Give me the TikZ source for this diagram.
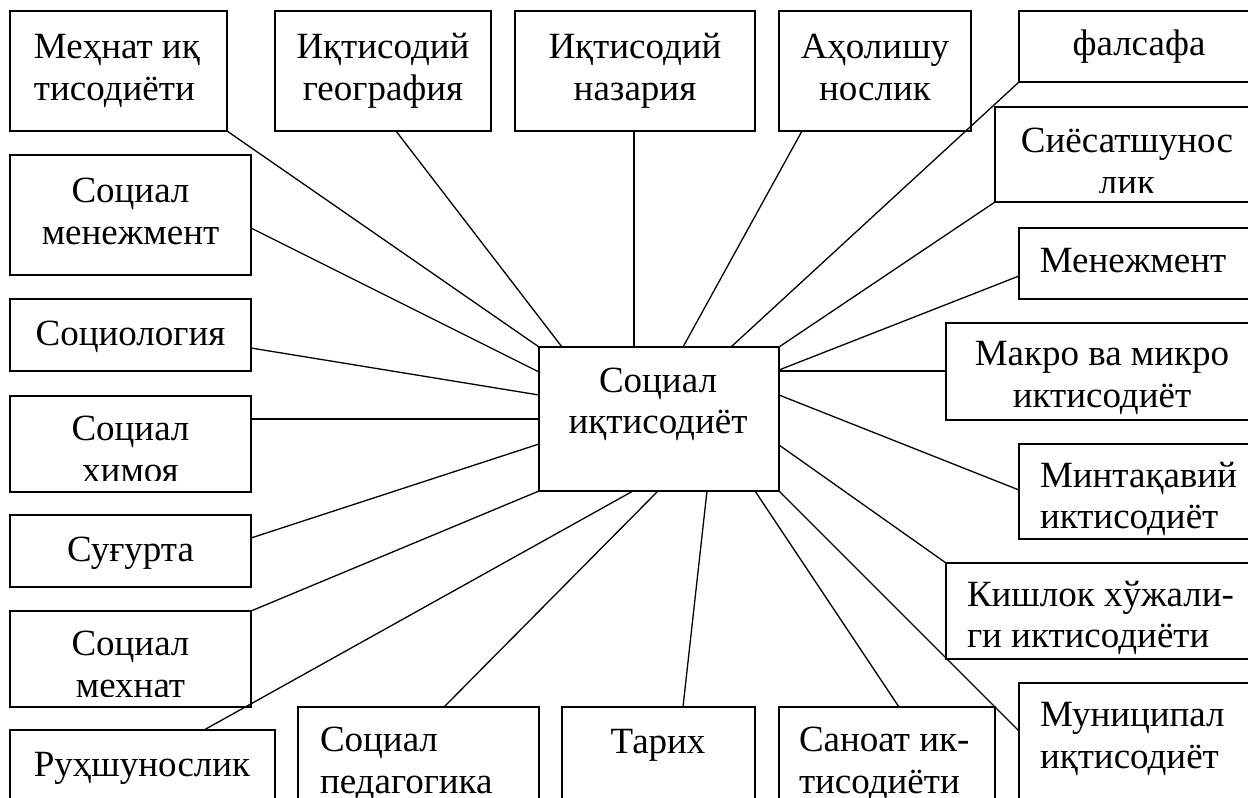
\documentclass[tikz,border=0pt]{standalone}
\usepackage{fontspec}
\setmainfont{Liberation Serif}
\begin{document}
\begin{tikzpicture}[x=1pt,y=-1pt,
  bx/.style={draw, line width=1.6pt, rectangle, inner sep=0pt, outer sep=0pt, anchor=north west},
  tx/.style={inner sep=0pt, outer sep=0pt, font=\fontsize{37}{42}\selectfont},
  ln/.style={line width=1.3pt}]
\useasboundingbox (0,0) rectangle (1248,798);
\clip (0,0) rectangle (1248,798);
\fill[white] (0,0) rectangle (1248,798);
% boxes
\node[bx, minimum width=240pt, minimum height=144pt] (c) at (539,347) {};
\node[bx, minimum width=217pt, minimum height=120pt] (b1) at (10,11) {};
\node[bx, minimum width=216pt, minimum height=120pt] (b2) at (275,11) {};
\node[bx, minimum width=240pt, minimum height=120pt] (b3) at (515,11) {};
\node[bx, minimum width=192pt, minimum height=120pt] (b4) at (779,11) {};
\node[bx, minimum width=260pt, minimum height=71pt] (b5) at (1019,11) {};
\node[bx, minimum width=280pt, minimum height=95pt] (b6) at (995,107) {};
\node[bx, minimum width=260pt, minimum height=71pt] (b7) at (1019,228) {};
\node[bx, minimum width=330pt, minimum height=97pt] (b8) at (946,323) {};
\node[bx, minimum width=260pt, minimum height=95pt] (b9) at (1019,444) {};
\node[bx, minimum width=330pt, minimum height=96pt] (b10) at (946,563) {};
\node[bx, minimum width=260pt, minimum height=140pt] (b11) at (1019,683) {};
\node[bx, minimum width=216pt, minimum height=120pt] (b12) at (779,707) {};
\node[bx, minimum width=193pt, minimum height=120pt] (b13) at (562,707) {};
\node[bx, minimum width=241pt, minimum height=120pt] (b14) at (298,707) {};
\node[bx, minimum width=265pt, minimum height=100pt] (b15) at (10,730) {};
\node[bx, minimum width=241pt, minimum height=96pt] (b16) at (10,611) {};
\node[bx, minimum width=241pt, minimum height=72pt] (b17) at (10,515) {};
\node[bx, minimum width=241pt, minimum height=96pt] (b18) at (10,396) {};
\node[bx, minimum width=241pt, minimum height=72pt] (b19) at (10,299) {};
\node[bx, minimum width=241pt, minimum height=120pt] (b20) at (10,155) {};
% texts
\node[tx, anchor=base] (ct1) at (658,392) {Социал};
\node[tx, anchor=base] (ct2) at (658,433) {иқтисодиёт};
\node[tx, anchor=base west] (t1a) at (34,58) {Меҳнат иқ};
\node[tx, anchor=base west] (t1b) at (34,100) {тисодиёти};
\node[tx, anchor=base] (t2a) at (383,58) {Иқтисодий};
\node[tx, anchor=base] (t2b) at (383,100) {география};
\node[tx, anchor=base] (t3a) at (635,58) {Иқтисодий};
\node[tx, anchor=base] (t3b) at (635,100) {назария};
\node[tx, anchor=base] (t4a) at (875,58) {Аҳолишу};
\node[tx, anchor=base] (t4b) at (875,100) {нослик};
\node[tx, anchor=base] (t5) at (1139,55) {фалсафа};
\node[tx, anchor=base] (t6a) at (1127,152) {Сиёсатшунос};
\begin{scope}
\clip (995,107) rectangle (1248,192);
\node[tx, anchor=base] (t6b) at (1127,194) {лик};
\end{scope}
\node[tx, anchor=base] (t7) at (1133,272) {Менежмент};
\node[tx, anchor=base] (t8a) at (1102,365) {Макро ва микро};
\node[tx, anchor=base] (t8b) at (1102,407) {иктисодиёт};
\node[tx, anchor=base west] (t9a) at (1040,487) {Минтақавий};
\node[tx, anchor=base west] (t9b) at (1040,528) {иктисодиёт};
\node[tx, anchor=base west] (t10a) at (967,606) {Кишлок хўжали-};
\node[tx, anchor=base west] (t10b) at (967,647) {ги иктисодиёти};
\node[tx, anchor=base west] (t11a) at (1040,726) {Муниципал};
\node[tx, anchor=base west] (t11b) at (1040,768) {иқтисодиёт};
\node[tx, anchor=base west] (t12a) at (799,751) {Саноат ик-};
\node[tx, anchor=base west] (t12b) at (799,793) {тисодиёти};
\node[tx, anchor=base] (t13) at (658,753) {Тарих};
\node[tx, anchor=base west] (t14a) at (320,751) {Социал};
\node[tx, anchor=base west] (t14b) at (320,793) {педагогика};
\node[tx, anchor=base] (t15) at (142,776) {Руҳшунослик};
\node[tx, anchor=base] (t16a) at (130.5,655) {Социал};
\begin{scope}
\clip (10,611) rectangle (251,696);
\node[tx, anchor=base] (t16b) at (130.5,697) {мехнат};
\end{scope}
\node[tx, anchor=base] (t17) at (130.5,561) {Суғурта};
\node[tx, anchor=base] (t18a) at (130.5,440) {Социал};
\begin{scope}
\clip (10,396) rectangle (251,480);
\node[tx, anchor=base] (t18b) at (130.5,482) {химоя};
\end{scope}
\node[tx, anchor=base] (t19) at (130.5,345) {Социология};
\node[tx, anchor=base] (t20a) at (130.5,202) {Социал};
\node[tx, anchor=base] (t20b) at (130.5,244) {менежмент};
% connectors
\draw[ln] (b1.south east) -- (c.north west);
\draw[ln] ([xshift=121pt]b2.south west) -- ([xshift=23pt]c.north west);
\draw[ln] ([xshift=119pt]b3.south west) -- ([xshift=95pt]c.north west);
\draw[ln] ([xshift=23pt]b4.south west) -- ([xshift=144pt]c.north west);
\draw[ln] (b5.south west) -- ([xshift=192pt]c.north west);
\draw[ln] (b6.south west) -- (c.north east);
\draw[ln] ([yshift=-48pt]b7.north west) -- ([yshift=-23pt]c.north east);
\draw[ln] ([yshift=-48pt]b8.north west) -- ([yshift=-24pt]c.north east);
\draw[ln] ([yshift=-46pt]b9.north west) -- ([yshift=-48pt]c.north east);
\draw[ln] (b10.north west) -- ([yshift=-98pt]c.north east);
\draw[ln] ([yshift=-48pt]b11.north west) -- (c.south east);
\draw[ln] ([xshift=120pt]b12.north west) -- ([xshift=-24pt]c.south east);
\draw[ln] ([xshift=121pt]b13.north west) -- ([xshift=-72pt]c.south east);
\draw[ln] ([xshift=146pt]b14.north west) -- ([xshift=119pt]c.south west);
\draw[ln] ([xshift=194pt]b15.north west) -- ([xshift=94pt]c.south west);
\draw[ln] (b16.north east) -- (c.south west);
\draw[ln] ([yshift=-23pt]b17.north east) -- ([yshift=47pt]c.south west);
\draw[ln] ([yshift=-23pt]b18.north east) -- ([yshift=-72pt]c.north west);
\draw[ln] ([yshift=-49pt]b19.north east) -- ([yshift=-48pt]c.north west);
\draw[ln] ([yshift=-73pt]b20.north east) -- ([yshift=-25pt]c.north west);
\end{tikzpicture}
\end{document}
